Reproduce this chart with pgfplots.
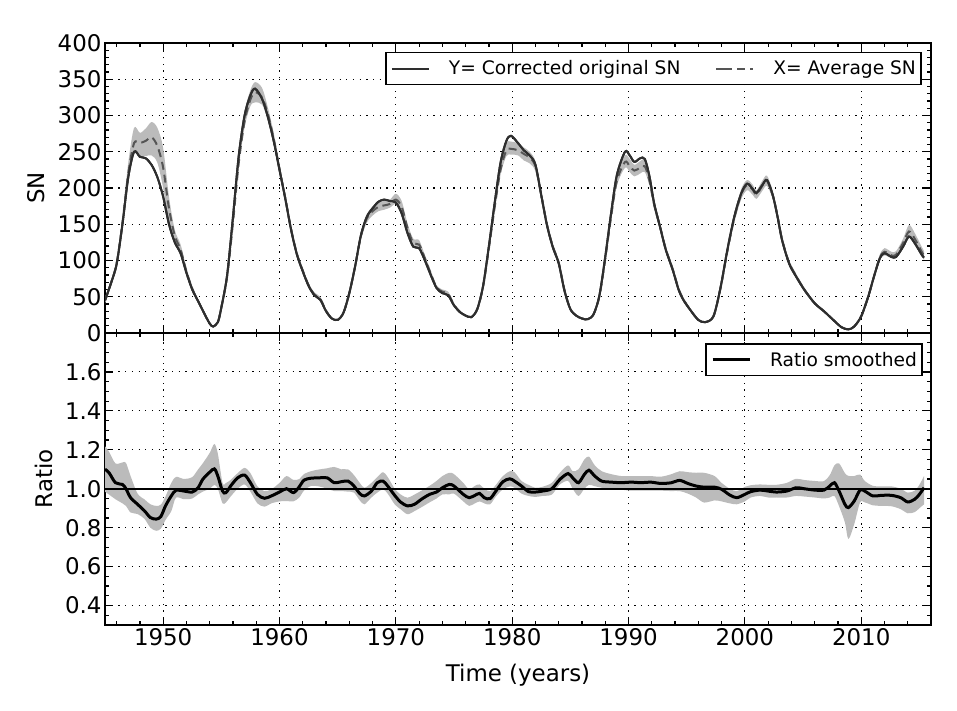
\documentclass[border=0pt]{standalone}
\usepackage{fontspec}
\setmainfont{DejaVu Sans}
\usepackage{pgfplots}
\pgfplotsset{compat=1.18}
\usepgfplotslibrary{fillbetween}
\usepackage{pgfplotstable}

\pgfplotstableread{
x Y X lo hi
1945.0 45 45 41 49
1945.5 68 68 64 72
1946.0 95 96 91 101
1946.5 150 152 145 159
1947.0 215 220 208 235
1947.5 250 262 248 283
1948.0 243 262 243 276
1948.5 241 265 244 282
1949.0 232 270 245 291
1949.5 215 258 235 283
1950.0 188 228 200 255
1950.5 150 172 150 188
1951.0 125 134 123 142
1951.5 110 115 106 122
1952.0 83 85 80 90
1952.5 60 61 57 65
1953.0 44 44 41 47
1953.5 28 28 26 30
1954.0 13 13 12 15
1954.3 9 9 8 10
1954.7 15 15 14 16
1955.0 35 35 33 37
1955.5 80 78 74 83
1956.0 160 152 146 162
1956.5 245 235 228 250
1957.0 300 292 284 306
1957.5 328 322 313 335
1957.9 337 332 318 346
1958.5 323 325 315 338
1959.0 298 302 293 311
1959.5 265 268 260 276
1960.0 225 226 219 233
1960.5 185 186 180 192
1961.0 142 143 138 148
1961.5 108 109 105 113
1962.0 85 86 82 90
1962.5 65 66 63 69
1963.0 52 53 50 56
1963.5 46 47 44 50
1964.0 30 31 29 33
1964.5 20 20 19 21
1965.0 18 18 17 19
1965.5 28 28 26 30
1966.0 55 55 52 58
1966.5 92 92 88 96
1967.0 135 134 129 139
1967.5 160 158 152 164
1968.0 172 168 162 174
1968.5 181 174 168 180
1969.0 184 176 170 182
1969.5 182 178 173 184
1970.0 180 184 178 192
1970.5 165 174 167 182
1971.0 138 145 139 151
1971.5 119 124 118 130
1972.0 117 122 117 128
1972.5 100 103 99 107
1973.0 80 82 78 86
1973.5 62 63 60 66
1974.0 55 57 54 60
1974.5 52 54 51 57
1975.0 38 39 37 41
1975.5 29 29 27 31
1976.0 24 24 23 25
1976.5 22 22 21 23
1977.0 33 33 31 35
1977.5 65 64 61 67
1978.0 120 117 112 122
1978.5 180 174 168 180
1979.0 235 225 218 233
1979.5 265 252 244 262
1979.9 272 254 246 264
1980.5 262 252 245 262
1981.0 252 247 238 256
1981.5 245 242 234 250
1982.0 232 230 223 237
1982.5 190 190 184 196
1983.0 148 149 144 154
1983.5 118 119 115 123
1984.0 96 97 93 101
1984.5 58 59 56 62
1985.0 33 33 31 35
1985.5 24 24 23 25
1986.0 20 20 19 21
1986.5 19 19 18 20
1987.0 26 26 24 28
1987.5 52 51 48 54
1988.0 105 102 98 106
1988.5 165 160 154 166
1989.0 218 210 203 217
1989.7 250 236 228 245
1990.1 245 230 222 240
1990.5 236 224 216 232
1991.0 241 228 220 237
1991.4 240 230 222 239
1991.8 216 210 203 217
1992.2 179 177 171 183
1992.7 147 147 142 152
1993.2 115 116 112 120
1993.8 87 88 84 92
1994.3 60 61 58 64
1994.7 46 47 45 50
1995.3 32 32 30 34
1996.0 18 18 17 19
1996.6 15 15 14 16
1997.3 23 23 22 24
1997.9 62 61 58 64
1998.5 115 113 109 117
1999.1 161 159 153 165
1999.7 193 192 185 199
2000.2 206 204 197 211
2000.7 198 197 190 204
2001.0 193 191 185 197
2001.5 204 203 196 210
2001.9 211 210 203 217
2002.4 190 190 184 196
2002.8 161 162 156 168
2003.2 128 129 124 134
2003.8 96 97 93 101
2004.4 78 79 76 82
2005.1 60 60 57 63
2006.0 41 41 39 43
2006.8 30 30 28 32
2007.6 18 18 17 19
2008.3 8 8 7 9
2008.9 5 5 4 6
2009.4 9 9 8 10
2010.0 23 23 22 24
2010.6 50 50 48 52
2011.1 78 78 75 81
2011.6 103 104 100 108
2012.0 110 112 107 117
2012.6 105 107 103 112
2013.0 105 108 103 113
2013.6 119 124 118 130
2014.1 133 140 133 149
2014.6 124 130 123 138
2015.2 108 112 106 119
2015.4 104 107 101 113
}\sndata

\pgfplotstableread{
x r lo hi
1945.0 1.100 0.985 1.218
1945.35 1.082 0.970 1.190
1945.9 1.031 0.946 1.130
1946.5 1.022 0.925 1.135
1946.8 1.000 0.912 1.133
1947.2 0.954 0.878 1.065
1947.8 0.920 0.870 0.975
1948.4 0.886 0.845 0.945
1948.9 0.852 0.800 0.920
1949.4 0.844 0.784 0.912
1949.8 0.857 0.795 0.918
1950.2 0.912 0.840 0.960
1950.7 0.963 0.885 1.030
1951.1 0.992 0.954 1.061
1951.8 0.988 0.946 1.050
1952.5 0.983 0.950 1.060
1953.0 1.005 0.971 1.099
1953.4 1.048 0.985 1.130
1954.0 1.085 1.000 1.184
1954.4 1.102 1.020 1.230
1954.7 1.065 1.000 1.180
1955.1 0.988 0.925 1.030
1955.4 0.980 0.930 1.030
1955.8 1.014 0.960 1.045
1956.4 1.056 1.000 1.080
1957.0 1.070 1.022 1.107
1957.5 1.031 0.985 1.080
1958.1 0.971 0.925 1.012
1958.7 0.951 0.908 0.988
1959.3 0.963 0.925 0.997
1960.0 0.983 0.935 1.030
1960.6 1.000 0.937 1.065
1961.2 0.980 0.935 1.045
1961.7 1.010 0.955 1.050
1962.1 1.044 0.990 1.075
1962.7 1.054 1.014 1.090
1963.4 1.056 1.012 1.099
1964.1 1.056 1.000 1.105
1964.7 1.031 0.988 1.112
1965.3 1.036 0.988 1.100
1965.9 1.039 0.985 1.099
1966.4 1.014 0.980 1.070
1966.9 0.975 0.940 1.030
1967.3 0.963 0.920 1.005
1967.9 0.988 0.955 1.030
1968.4 1.031 0.980 1.060
1968.9 1.039 0.997 1.085
1969.3 1.014 0.975 1.060
1969.9 0.966 0.920 1.000
1970.4 0.932 0.895 0.971
1971.0 0.912 0.869 0.954
1971.6 0.920 0.885 0.970
1972.2 0.946 0.905 0.990
1972.9 0.971 0.930 1.015
1973.5 0.983 0.950 1.040
1974.0 1.005 0.971 1.065
1974.6 1.022 0.971 1.082
1975.0 1.014 0.975 1.075
1975.8 0.971 0.935 1.030
1976.3 0.954 0.912 0.997
1976.8 0.966 0.925 1.015
1977.2 0.976 0.935 1.022
1977.6 0.954 0.925 1.000
1978.1 0.949 0.920 0.988
1978.6 0.988 0.960 1.020
1979.2 1.036 0.997 1.065
1979.8 1.051 1.012 1.090
1980.2 1.039 1.005 1.085
1980.8 1.014 0.975 1.040
1981.4 0.985 0.963 1.020
1982.0 0.983 0.958 1.005
1982.6 0.988 0.963 1.010
1983.4 1.000 0.970 1.030
1984.1 1.048 1.022 1.082
1984.8 1.078 1.040 1.120
1985.2 1.056 1.000 1.090
1985.7 1.031 0.963 1.100
1986.2 1.073 1.000 1.150
1986.6 1.095 1.020 1.165
1987.1 1.065 1.013 1.120
1987.7 1.039 1.005 1.090
1988.5 1.034 1.000 1.075
1989.4 1.031 0.995 1.065
1990.2 1.034 0.990 1.065
1991.1 1.031 0.990 1.065
1991.9 1.034 0.990 1.065
1992.8 1.027 0.990 1.062
1993.7 1.031 0.988 1.075
1994.4 1.043 0.988 1.090
1995.1 1.027 0.975 1.085
1995.8 1.014 0.955 1.082
1996.5 1.008 0.929 1.082
1997.4 1.008 0.940 1.065
1998.0 0.997 0.935 1.030
1998.7 0.968 0.925 1.000
1999.3 0.954 0.920 0.988
2000.0 0.971 0.935 1.010
2000.5 0.985 0.955 1.018
2001.3 0.993 0.963 1.022
2002.0 0.988 0.955 1.020
2002.7 0.983 0.955 1.020
2003.6 0.988 0.955 1.030
2004.4 1.005 0.963 1.051
2005.1 1.000 0.960 1.045
2006.0 0.993 0.955 1.040
2006.8 0.993 0.950 1.039
2007.3 1.014 0.955 1.070
2007.7 1.031 0.963 1.120
2008.1 0.988 0.910 1.130
2008.6 0.920 0.827 1.080
2008.9 0.903 0.742 1.066
2009.4 0.937 0.818 1.065
2009.9 0.993 0.929 1.073
2010.3 0.988 0.930 1.040
2011.0 0.963 0.915 1.015
2011.7 0.966 0.912 1.012
2012.6 0.966 0.910 1.012
2013.4 0.954 0.895 1.000
2014.0 0.932 0.874 0.980
2014.6 0.946 0.880 0.990
2015.0 0.971 0.900 1.020
2015.4 1.005 0.920 1.065
}\ratiodata

\definecolor{bandgray}{HTML}{BBBBBB}
\definecolor{ycol}{HTML}{2E2E2E}
\definecolor{xcol}{HTML}{555555}

\pgfplotsset{
  common/.style={
    scale only axis, width=826bp,
    xmin=1945, xmax=2016,
    xtick={1950,1960,...,2010},
    minor xtick={1946,1948,...,2016},
    tick align=inside, tick pos=both,
    major tick length=8bp, minor tick length=4bp,
    tick style={black, line width=1.2bp},
    axis line style={line width=1.8bp},
    grid=major,
    major grid style={black, line width=1.1bp, dash pattern=on 1.2bp off 5.5bp},
    ticklabel style={font=\fontsize{23}{27}\selectfont},
    label style={font=\fontsize{23}{27}\selectfont},
    /pgf/number format/assume math mode=true,
    /pgf/number format/set thousands separator={},
    legend image code/.code={\path (0bp,0bp) -- (8bp,0bp); \draw[##1] (8bp,0bp) -- (37bp,0bp);},
    legend style={draw=black, line width=1.5bp, inner xsep=5bp, inner ysep=7bp,
      font=\fontsize{18.7}{22}\selectfont,
      nodes={inner xsep=0bp, inner ysep=1bp},
      /tikz/every odd column/.append style={column sep=19bp},
      /tikz/every even column/.append style={column sep=35bp}},
  }
}

\begin{document}
\begin{tikzpicture}
\begin{axis}[common, name=top, height=290bp,
  ymin=0, ymax=400, ytick={0,50,...,400}, minor ytick={10,20,...,390},
  xticklabels={},
  ylabel={SN},
  ylabel style={at={(axis description cs:-0.0835,0.5)}, anchor=center},
  legend columns=2,
  legend style={at={(axis description cs:0.9887,0.969)}, anchor=north east},
]
\addplot[draw=none, name path=snhi, forget plot, smooth, tension=0.5] table[x=x,y=hi]{\sndata};
\addplot[draw=none, name path=snlo, forget plot, smooth, tension=0.5] table[x=x,y=lo]{\sndata};
\addplot[fill=bandgray, draw=none, forget plot] fill between[of=snhi and snlo];
\addplot[ycol, line width=2bp, smooth, tension=0.5] table[x=x,y=Y]{\sndata};
\addlegendentry{Y= Corrected original SN}
\addplot[xcol, line width=2bp, dash pattern=on 8bp off 5bp, smooth, tension=0.5] table[x=x,y=X]{\sndata};
\addlegendentry{X= Average SN}
\addplot[ycol, line width=2bp, smooth, tension=0.5, forget plot] table[x=x,y=Y]{\sndata};
\end{axis}

\begin{axis}[common, at={(top.south west)}, anchor=north west, height=292bp,
  ymin=0.3, ymax=1.8, ytick={0.4,0.6,0.8,1.0,1.2,1.4,1.6},
  minor ytick={0.35,0.4,...,1.8},
  yticklabel style={/pgf/number format/.cd, fixed, fixed zerofill, precision=1},
  xlabel={Time (years)},
  xlabel style={at={(axis description cs:0.5,-0.173)}, anchor=center},
  ylabel={Ratio},
  ylabel style={at={(axis description cs:-0.0745,0.5)}, anchor=center},
  legend style={at={(axis description cs:0.9899,0.9647)}, anchor=north east},
]
\addplot[draw=none, name path=rhi, forget plot, smooth, tension=0.5] table[x=x,y=hi]{\ratiodata};
\addplot[draw=none, name path=rlo, forget plot, smooth, tension=0.5] table[x=x,y=lo]{\ratiodata};
\addplot[fill=bandgray, draw=none, forget plot] fill between[of=rhi and rlo];
\addplot[black, line width=1.6bp, forget plot] coordinates {(1945,1) (2016,1)};
\addplot[black, line width=3bp, smooth, tension=0.5] table[x=x,y=r]{\ratiodata};
\addlegendentry{Ratio smoothed}
\end{axis}
\pgfresetboundingbox
\path[use as bounding box] ([shift={(-105bp,-378bp)}]top.south west) rectangle ([shift={(852bp,333bp)}]top.south west);
\end{tikzpicture}
\end{document}
